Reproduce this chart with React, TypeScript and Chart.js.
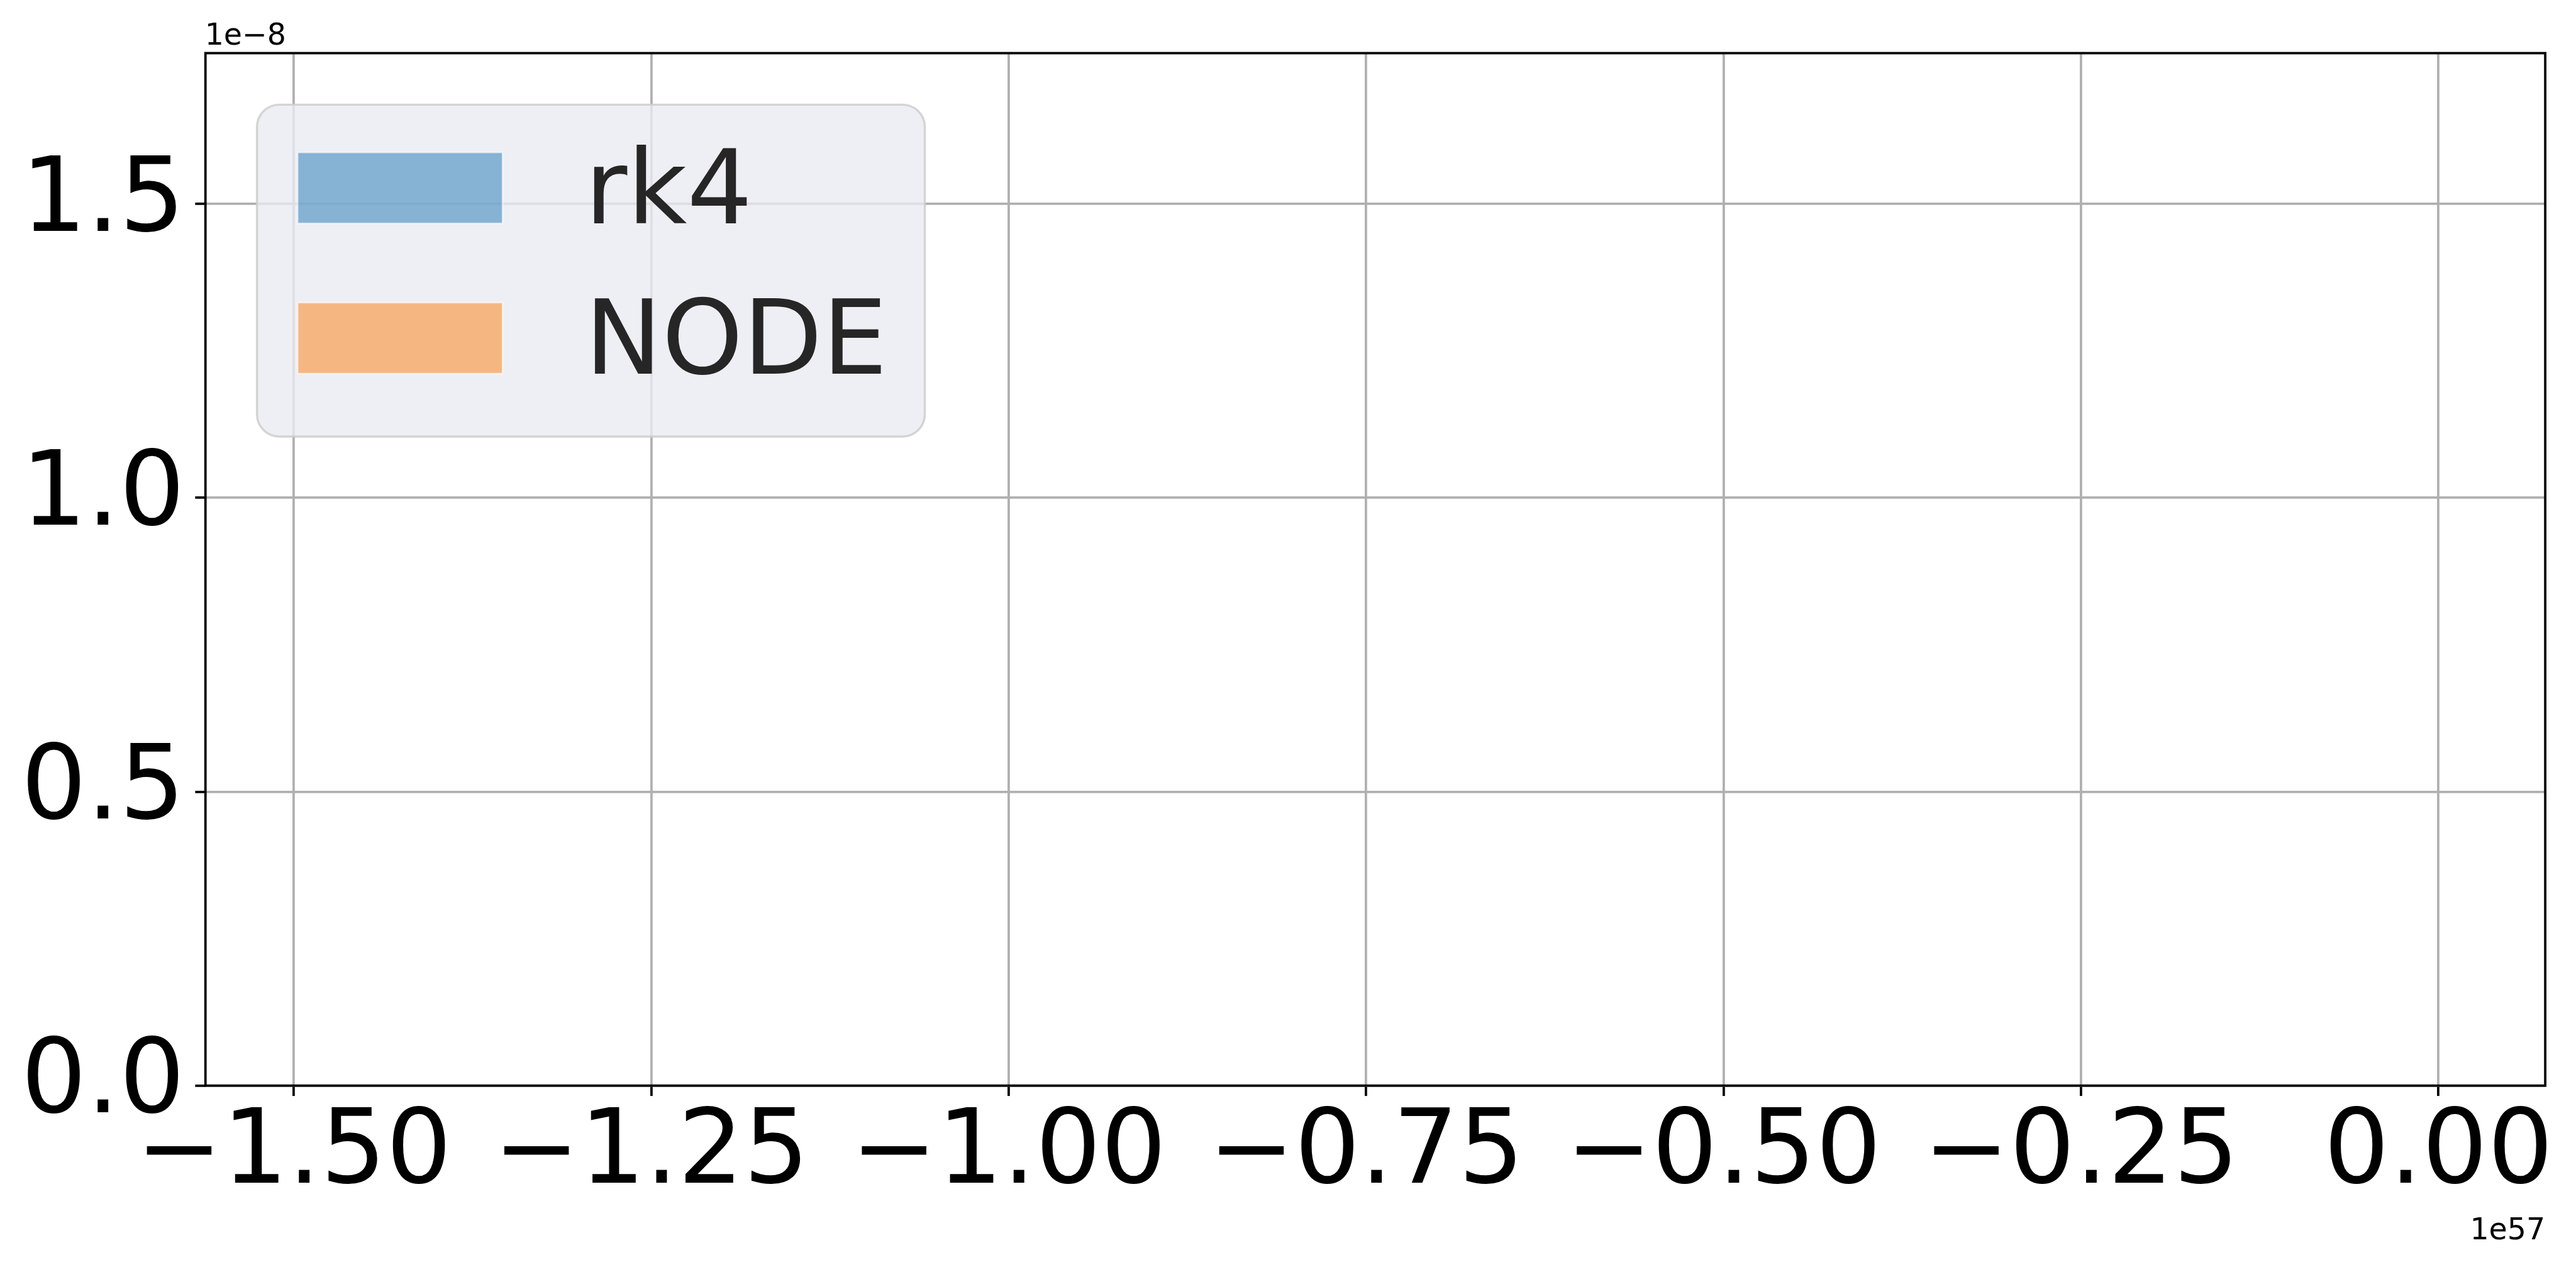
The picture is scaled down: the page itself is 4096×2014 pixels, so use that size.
import React, { useEffect, useRef } from 'react';
import { Chart, registerables } from 'chart.js';

Chart.register(...registerables);

const W = 4096;
const H = 2014;
const S = 0.862;

// ---- data (histogram bins: nothing visible at this scale) ----
const seriesLabels = ['rk4', 'NODE'];
const binCenters: number[] = [];
const rk4Density: number[] = [];
const nodeDensity: number[] = [];

const xTickValues = [-1.5e57, -1.25e57, -1.0e57, -0.75e57, -0.5e57, -0.25e57, 0];
const xTickLabels = ['−1.50', '−1.25', '−1.00', '−0.75', '−0.50', '−0.25', '0.00'];
const yTickValues = [0, 0.5e-8, 1.0e-8, 1.5e-8];
const yTickLabels = ['0.0', '0.5', '1.0', '1.5'];
const xOffsetLabel = '1e57';
const yOffsetLabel = '1e−8';
const xRange = [-1.5618e57, 0.0747e57];
const yRange = [0, 1.7565e-8];

const seriesFill = ['rgba(31,119,180,0.5)', 'rgba(255,127,14,0.5)'];

const FONT = "'DejaVu Sans', sans-serif";

const area = {
  left: 379 * S,
  right: 4695 * S,
  top: 98 * S,
  bottom: 2002 * S,
};

const decorPlugin = {
  id: 'decor',
  afterDraw(chart: any) {
    const ctx: CanvasRenderingContext2D = chart.ctx;
    const ca = chart.chartArea;
    ctx.save();
    // spines
    ctx.strokeStyle = '#000000';
    ctx.lineWidth = 4.4 * S;
    ctx.lineJoin = 'miter';
    ctx.strokeRect(ca.left, ca.top, ca.right - ca.left, ca.bottom - ca.top);

    // offset texts
    ctx.fillStyle = '#000000';
    ctx.font = `${55 * S}px ${FONT}`;
    ctx.textBaseline = 'alphabetic';
    ctx.textAlign = 'left';
    ctx.fillText(yOffsetLabel, ca.left - 1, 82 * S);
    ctx.textAlign = 'right';
    ctx.fillText(xOffsetLabel, ca.right, 2285 * S);

    // legend
    const bx = 474 * S, by = 193 * S, bw = (1706 - 474) * S, bh = (805 - 193) * S;
    const r = 41 * S;
    ctx.beginPath();
    ctx.moveTo(bx + r, by);
    ctx.lineTo(bx + bw - r, by);
    ctx.arcTo(bx + bw, by, bx + bw, by + r, r);
    ctx.lineTo(bx + bw, by + bh - r);
    ctx.arcTo(bx + bw, by + bh, bx + bw - r, by + bh, r);
    ctx.lineTo(bx + r, by + bh);
    ctx.arcTo(bx, by + bh, bx, by + bh - r, r);
    ctx.lineTo(bx, by + r);
    ctx.arcTo(bx, by, bx + r, by, r);
    ctx.closePath();
    ctx.fillStyle = 'rgba(234,234,242,0.8)';
    ctx.fill();
    ctx.strokeStyle = 'rgba(204,204,204,0.8)';
    ctx.lineWidth = 4 * S;
    ctx.stroke();

    const datasets = chart.data.datasets;
    const rowsTop = [281 * S, 558 * S];
    const ph = 131 * S;
    const px = 549 * S, pw = (927 - 549) * S;
    datasets.forEach((ds: any, i: number) => {
      const y0 = rowsTop[i];
      ctx.fillStyle = ds.backgroundColor;
      ctx.fillRect(px, y0, pw, ph);
      ctx.strokeStyle = 'rgba(255,255,255,0.6)';
      ctx.lineWidth = 3 * S;
      ctx.strokeRect(px, y0, pw, ph);
      ctx.fillStyle = '#262626';
      ctx.font = `${190 * S}px ${FONT}`;
      ctx.textAlign = 'left';
      ctx.textBaseline = 'alphabetic';
      ctx.fillText(ds.label, 1079 * S, y0 + ph);
    });
    ctx.restore();
  },
};

export default function App() {
  const ref = useRef<HTMLCanvasElement | null>(null);
  useEffect(() => {
    if (!ref.current) return;
    const chart = new Chart(ref.current, {
      type: 'bar',
      data: {
        labels: binCenters,
        datasets: [
          {
            label: seriesLabels[0],
            data: binCenters.map((x, i) => ({ x, y: rk4Density[i] })),
            backgroundColor: seriesFill[0],
          },
          {
            label: seriesLabels[1],
            data: binCenters.map((x, i) => ({ x, y: nodeDensity[i] })),
            backgroundColor: seriesFill[1],
          },
        ] as any,
      },
      options: {
        animation: false,
        responsive: false,
        devicePixelRatio: 1,
        layout: {
          padding: { top: area.top, right: W - area.right, left: 0, bottom: 0 },
        },
        plugins: {
          legend: { display: false },
          tooltip: { enabled: false },
        },
        scales: {
          x: {
            type: 'linear',
            min: xRange[0],
            max: xRange[1],
            offset: false,
            border: { display: false },
            grid: {
              offset: false,
              color: '#b0b0b0',
              lineWidth: 4.4 * S,
              drawTicks: true,
              tickLength: 19 * S,
              tickColor: '#000000',
              tickWidth: 4.4 * S,
            },
            ticks: {
              color: '#000000',
              font: { family: FONT, size: 190 * S, lineHeight: 1 },
              padding: 13,
              maxRotation: 0,
              autoSkip: false,
              callback: (_v: any, i: number) => xTickLabels[i],
            },
            afterBuildTicks: (scale: any) => {
              scale.ticks = xTickValues.map((v) => ({ value: v }));
            },
            afterFit: (scale: any) => {
              scale.height = H - area.bottom;
              scale.paddingLeft = 0;
              scale.paddingRight = 0;
              scale.paddingTop = 0;
              scale.paddingBottom = 0;
            },
          },
          y: {
            type: 'linear',
            min: yRange[0],
            max: yRange[1],
            border: { display: false },
            grid: {
              offset: false,
              color: '#b0b0b0',
              lineWidth: 4.4 * S,
              drawTicks: true,
              tickLength: 19 * S,
              tickColor: '#000000',
              tickWidth: 4.4 * S,
            },
            ticks: {
              color: '#000000',
              font: { family: FONT, size: 190 * S, lineHeight: 1 },
              padding: 19 * S,
              autoSkip: false,
              callback: (_v: any, i: number) => yTickLabels[i],
            },
            afterBuildTicks: (scale: any) => {
              scale.ticks = yTickValues.map((v) => ({ value: v }));
            },
            afterFit: (scale: any) => {
              scale.width = area.left;
              scale.paddingLeft = 0;
              scale.paddingRight = 0;
              scale.paddingTop = 0;
              scale.paddingBottom = 0;
            },
          },
        },
      } as any,
      plugins: [decorPlugin],
    });
    return () => chart.destroy();
  }, []);
  return (
    <div style={{ position: 'absolute', left: 0, top: 0, width: W, height: H, background: '#ffffff' }}>
      <canvas ref={ref} width={W} height={H} style={{ display: 'block', width: W, height: H }} />
    </div>
  );
}
